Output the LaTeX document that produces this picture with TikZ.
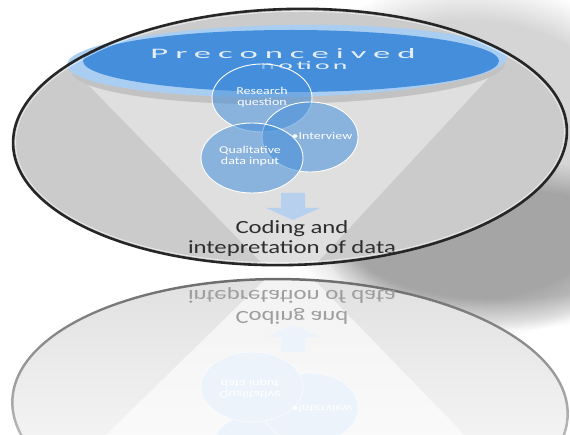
\documentclass[tikz,border=0pt]{standalone}
\usepackage{fontspec}
\setmainfont{Carlito}
\usetikzlibrary{positioning}

\definecolor{notionblue}{RGB}{68,142,219}
\definecolor{rimblue}{RGB}{170,206,241}
\definecolor{bandgrey}{RGB}{194,194,194}
\definecolor{bowlgrey}{RGB}{203,203,203}
\definecolor{funnelgrey}{RGB}{223,223,223}
\definecolor{arrowblue}{RGB}{182,208,238}
\definecolor{paleblue}{RGB}{236,243,251}

\newcommand{\stretchx}[2][1]{\scalebox{1.33}[#1]{#2}}

\begin{document}
\begin{tikzpicture}[x=1pt, y=-1pt,
    bubble/.style={fill=notionblue, fill opacity=0.55, draw=white, line width=0.9},
    bubbletext/.style={text=white, font=\fontsize{10.5}{11}\selectfont, inner sep=0},
    bigtext/.style={text=black!82, font=\fontsize{18.6}{20}\selectfont, inner sep=0},
    notiontext/.style={text=white, opacity=0.85, inner sep=0}
]
\useasboundingbox (0,0) rectangle (570,435);
\clip (0,0) rectangle (570,435);

% soft shadow to the right
\foreach \e in {0,2,...,40}
    \fill[black, opacity=0.0085] (470,160) ellipse [x radius=170+\e, y radius=140+\e];
\foreach \e in {0,2,...,30}
    \fill[black, opacity=0.017] (505,245) ellipse [x radius=150+\e, y radius=55+\e];

% reflection
\shade[top color=black!12, middle color=black!2, bottom color=white, rotate around={-1.5:(290,408)}]
    (290,408) ellipse [x radius=277, y radius=128];
\begin{scope}
\clip[rotate around={-1.5:(290,408)}] (290,408) ellipse [x radius=277, y radius=128];
\fill[white, opacity=0.6] (290,255) -- (60,480) -- (515,487) -- cycle;
\fill[paleblue] (281,352) -- (305,352) -- (305,337) -- (320,337) -- (293,325) -- (266,337) -- (281,337) -- cycle;
\filldraw[fill=paleblue, draw=white] (262,447) ellipse [x radius=50, y radius=34];
\filldraw[fill=paleblue, draw=white] (310,408) ellipse [x radius=48, y radius=35];
\filldraw[fill=paleblue, draw=white] (252,387) ellipse [x radius=51, y radius=35];
\end{scope}
\shade[top color=black!58, bottom color=black!8, even odd rule, rotate around={-1.5:(290,408)}]
    (290,408) ellipse [x radius=279, y radius=130] (290,408) ellipse [x radius=276.5, y radius=127.5];
\node[bigtext, text=black!38] (cdm) at (292,305)
    {\stretchx[-1]{\begin{tabular}{@{}c@{}}Coding and\\intepretation of data\end{tabular}}};
\node[bubbletext] (qdm) at (250,388)
    {\stretchx[-1]{\begin{tabular}{@{}c@{}}Qualitative\\data input\end{tabular}}};
\node[bubbletext] (ivm) at (322,409) {\stretchx[-1]{•Interview}};

% bowl
\fill[bowlgrey, rotate around={1.5:(290,137)}] (290,137) ellipse [x radius=277, y radius=128];
\begin{scope}
\clip[rotate around={1.5:(290,137)}] (290,137) ellipse [x radius=276, y radius=127];
\fill[funnelgrey] (67,63) -- (290,292) -- (507,58) -- cycle;
\end{scope}
\fill[bandgrey, rotate around={1:(288,67)}] (288,67) ellipse [x radius=217, y radius=37];
\fill[rimblue, rotate around={1:(287,61)}] (287,61) ellipse [x radius=220, y radius=36];
\fill[notionblue] (291,61) ellipse [x radius=208, y radius=31];

\node[notiontext] (pc) at (283,54)
    {\resizebox{265pt}{10pt}{\addfontfeatures{LetterSpace=20}Preconceived}};
\node[notiontext, below=2pt of pc, xshift=21] (nt)
    {\resizebox{87pt}{8pt}{\addfontfeatures{LetterSpace=12}notion}};

% circles
\draw[bubble] (262,98) ellipse [x radius=50, y radius=34];
\draw[bubble] (310,137) ellipse [x radius=48, y radius=35];
\draw[bubble] (252,158) ellipse [x radius=51, y radius=35];
\node[bubbletext] (rq) at (262,98)
    {\stretchx{\begin{tabular}{@{}c@{}}Research\\question\end{tabular}}};
\node[bubbletext] (iv) at (322,136) {\stretchx{•Interview}};
\node[bubbletext] (qd) at (250,157)
    {\stretchx{\begin{tabular}{@{}c@{}}Qualitative\\data input\end{tabular}}};

% arrow and result
\fill[arrowblue] (281,193) -- (305,193) -- (305,208) -- (320,208) -- (293,220) -- (266,208) -- (281,208) -- cycle;
\node[bigtext] (cd) at (292,240)
    {\stretchx{\begin{tabular}{@{}c@{}}Coding and\\intepretation of data\end{tabular}}};

% rim of the bowl
\draw[line width=2.6, black!85, rotate around={1.5:(290,137)}] (290,137) ellipse [x radius=277, y radius=128];
\draw[white, opacity=0.6, line width=0.8, rotate around={1.5:(290,137)}] (290,137) ellipse [x radius=274.5, y radius=125.5];
\end{tikzpicture}
\end{document}
